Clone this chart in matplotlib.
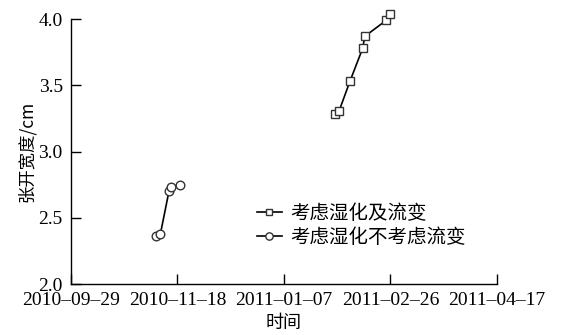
import matplotlib
matplotlib.use("Agg")
import matplotlib.pyplot as plt
import matplotlib.dates as mdates
import pandas as pd

# Crack opening width (cm) over time for two model variants
dates_creep = ["2011-01-31", "2011-02-02", "2011-02-07", "2011-02-13",
               "2011-02-14", "2011-02-24", "2011-02-26"]
width_creep = [3.28, 3.31, 3.53, 3.78, 3.87, 3.99, 4.04]

dates_nocreep = ["2010-11-08", "2010-11-10", "2010-11-14", "2010-11-15", "2010-11-19"]
width_nocreep = [2.36, 2.38, 2.70, 2.73, 2.75]

label_creep = "考虑湿化及流变"
label_nocreep = "考虑湿化不考虑流变"

xtick_dates = ["2010-09-29", "2010-11-18", "2011-01-07", "2011-02-26", "2011-04-17"]
yticks = [2.0, 2.5, 3.0, 3.5, 4.0]

cjk = ["Noto Sans CJK SC", "DejaVu Sans"]
serif = ["Liberation Serif", "DejaVu Serif"]

fig = plt.figure(figsize=(5.7, 3.35), dpi=100)
ax = fig.add_axes([0.1246, 0.152, 0.747, 0.791])

ax.plot(pd.to_datetime(dates_creep), width_creep, color="black", lw=1.2,
        marker="s", ms=5.5, mfc="white", mec="#333333", mew=1.0,
        label=label_creep, clip_on=False)
ax.plot(pd.to_datetime(dates_nocreep), width_nocreep, color="black", lw=1.2,
        marker="o", ms=6.2, mfc="white", mec="#333333", mew=1.0,
        label=label_nocreep, clip_on=False)

xt = pd.to_datetime(xtick_dates)
ax.set_xlim(xt[0], xt[-1])
ax.set_xticks(xt)
ax.xaxis.set_major_formatter(mdates.DateFormatter("%Y\u2013%m\u2013%d"))
ax.set_ylim(2.0, 4.0)
ax.set_yticks(yticks)
ax.yaxis.set_major_formatter(matplotlib.ticker.FormatStrFormatter("%.1f"))

for s in ["top", "right"]:
    ax.spines[s].set_visible(False)
for s in ["left", "bottom"]:
    ax.spines[s].set_linewidth(1.0)

ax.tick_params(direction="in", length=7, width=1.0)
ax.tick_params(axis="x", pad=6)
ax.tick_params(axis="y", pad=6)
for lab in ax.get_xticklabels() + ax.get_yticklabels():
    lab.set_fontfamily(serif)
    lab.set_fontsize(14)

ax.set_xlabel("时间", family=cjk, fontsize=13, labelpad=3)
ax.set_ylabel("张开宽度/cm", family=cjk, fontsize=12.5, labelpad=2)

leg = ax.legend(loc="center left", bbox_to_anchor=(0.436, 0.2225), frameon=False,
                handlelength=1.3, handletextpad=0.45, labelspacing=0.15,
                borderpad=0, borderaxespad=0, markerscale=0.85,
                prop={"family": cjk, "size": 14})

fig.savefig("out.png", dpi=100)
